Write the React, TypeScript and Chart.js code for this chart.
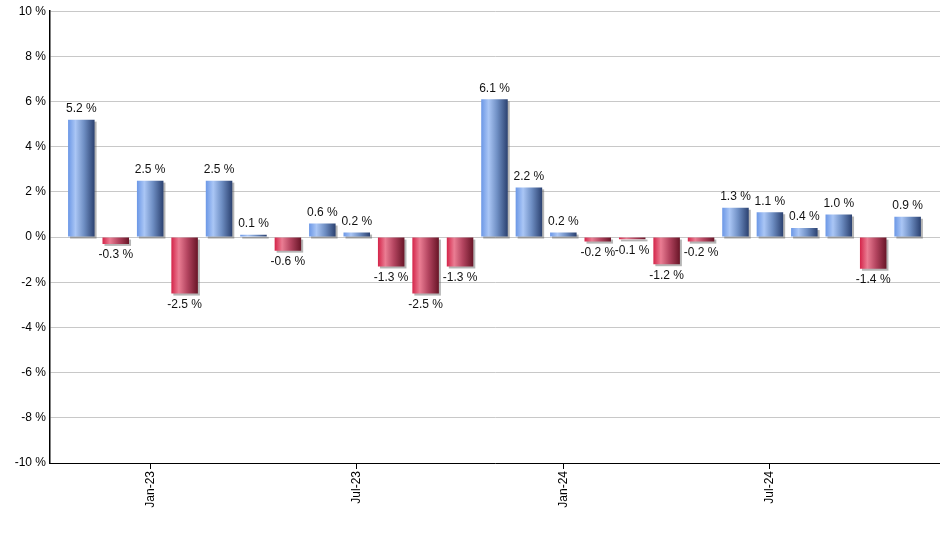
import React, { useEffect, useRef } from "react";
import { Chart, registerables } from "chart.js";

Chart.register(...registerables);

const months: string[] = [
  "Nov-22", "Dec-22", "Jan-23", "Feb-23", "Mar-23", "Apr-23", "May-23", "Jun-23", "Jul-23",
  "Aug-23", "Sep-23", "Oct-23", "Nov-23", "Dec-23", "Jan-24", "Feb-24", "Mar-24", "Apr-24",
  "May-24", "Jun-24", "Jul-24", "Aug-24", "Sep-24", "Oct-24", "Nov-24",
];
const changes: number[] = [
  5.2, -0.3, 2.5, -2.5, 2.5, 0.1, -0.6, 0.6, 0.2, -1.3, -2.5, -1.3, 6.1, 2.2, 0.2, -0.2, -0.1,
  -1.2, -0.2, 1.3, 1.1, 0.4, 1.0, -1.4, 0.9,
];
const shownTicks: string[] = ["Jan-23", "Jul-23", "Jan-24", "Jul-24"];
const yTicks: number[] = [-10, -8, -6, -4, -2, 0, 2, 4, 6, 8, 10];

const FONT = "'Liberation Sans', Arial, sans-serif";

const gradientPlugin = {
  id: "barGradient",
  beforeDatasetsDraw(chart: any) {
    const ctx = chart.ctx;
    const meta = chart.getDatasetMeta(0);
    const area = chart.chartArea;
    ctx.save();
    ctx.beginPath();
    ctx.rect(area.left, area.top, area.right - area.left, area.bottom - area.top);
    ctx.clip();
    meta.data.forEach((el: any, i: number) => {
      const v = changes[i];
      const w = el.width;
      const left = el.x - w / 2;
      const top = Math.min(el.y, el.base);
      const h = Math.abs(el.base - el.y);
      // shadow
      ctx.fillStyle = "rgba(90,90,90,0.45)";
      ctx.fillRect(left + 2, top + 2, w, h);
      const g = ctx.createLinearGradient(left, 0, left + w, 0);
      if (v >= 0) {
        g.addColorStop(0, "#6b97e6");
        g.addColorStop(0.28, "#aac6f5");
        g.addColorStop(0.6, "#6f8fc4");
        g.addColorStop(1, "#2b4170");
      } else {
        g.addColorStop(0, "#d42449");
        g.addColorStop(0.28, "#ea7d93");
        g.addColorStop(0.6, "#b44560");
        g.addColorStop(1, "#681527");
      }
      el.options = Object.assign({}, el.options, { backgroundColor: g });
    });
    ctx.restore();
  },
  afterDatasetsDraw(chart: any) {
    const ctx = chart.ctx;
    const meta = chart.getDatasetMeta(0);
    ctx.save();
    ctx.font = "12px " + FONT;
    ctx.fillStyle = "#111";
    ctx.textAlign = "center";
    meta.data.forEach((el: any, i: number) => {
      const v = changes[i];
      const txt = v.toFixed(1) + " %";
      if (v >= 0) {
        ctx.textBaseline = "bottom";
        ctx.fillText(txt, el.x, el.y - 5);
      } else {
        ctx.textBaseline = "top";
        ctx.fillText(txt, el.x, el.y + 5);
      }
    });
    ctx.restore();
  },
};

export default function App() {
  const canvasRef = useRef<HTMLCanvasElement | null>(null);

  useEffect(() => {
    document.body.style.margin = "0";
    const canvas = canvasRef.current;
    if (!canvas) return;
    const data = changes.map((v, i) => ({ x: i, y: v }));
    const chart = new Chart(canvas, {
      type: "bar",
      data: {
        datasets: [
          {
            data: data as any,
            backgroundColor: "#6b97e6",
            borderWidth: 0,
            barPercentage: 0.77,
            categoryPercentage: 1,
          },
        ],
      },
      options: {
        animation: false,
        responsive: false,
        maintainAspectRatio: false,
        layout: { padding: { top: 9, right: 0, left: 0, bottom: 0 } },
        plugins: {
          legend: { display: false },
          tooltip: { enabled: false },
          title: { display: false },
        },
        scales: {
          x: {
            type: "linear",
            offset: false,
            min: -0.91,
            max: 24.94,
            afterBuildTicks(scale: any) {
              scale.ticks = shownTicks.map((m) => ({ value: months.indexOf(m) }));
            },
            afterFit(scale: any) {
              scale.height = 87;
            },
            ticks: {
              autoSkip: false,
              maxRotation: 90,
              minRotation: 90,
              padding: 2,
              color: "#000",
              font: { family: FONT, size: 12 },
              callback: (val: any) => months[Math.round(Number(val))] ?? "",
            },
            grid: {
              display: true,
              offset: false,
              drawOnChartArea: false,
              drawTicks: true,
              tickLength: 6,
              color: "#000",
            },
            border: { display: true, color: "#000", width: 1 },
          },
          y: {
            type: "linear",
            min: -10,
            max: 10,
            afterBuildTicks(scale: any) {
              scale.ticks = yTicks.map((v) => ({ value: v }));
            },
            afterFit(scale: any) {
              scale.width = 50;
            },
            ticks: {
              padding: 4,
              color: "#000",
              font: { family: FONT, size: 12 },
              callback: (val: any) => val + " %",
            },
            grid: {
              color: "#c8c8c8",
              lineWidth: 1,
              drawTicks: false,
            },
            border: { display: true, color: "#000", width: 1.5 },
          },
        },
      },
      plugins: [gradientPlugin],
    } as any);
    return () => chart.destroy();
  }, []);

  return (
    <div style={{ position: "absolute", left: 0, top: 0, width: 940, height: 550, background: "#fff" }}>
      <canvas ref={canvasRef} width={940} height={550} style={{ width: 940, height: 550, display: "block" }} />
    </div>
  );
}
